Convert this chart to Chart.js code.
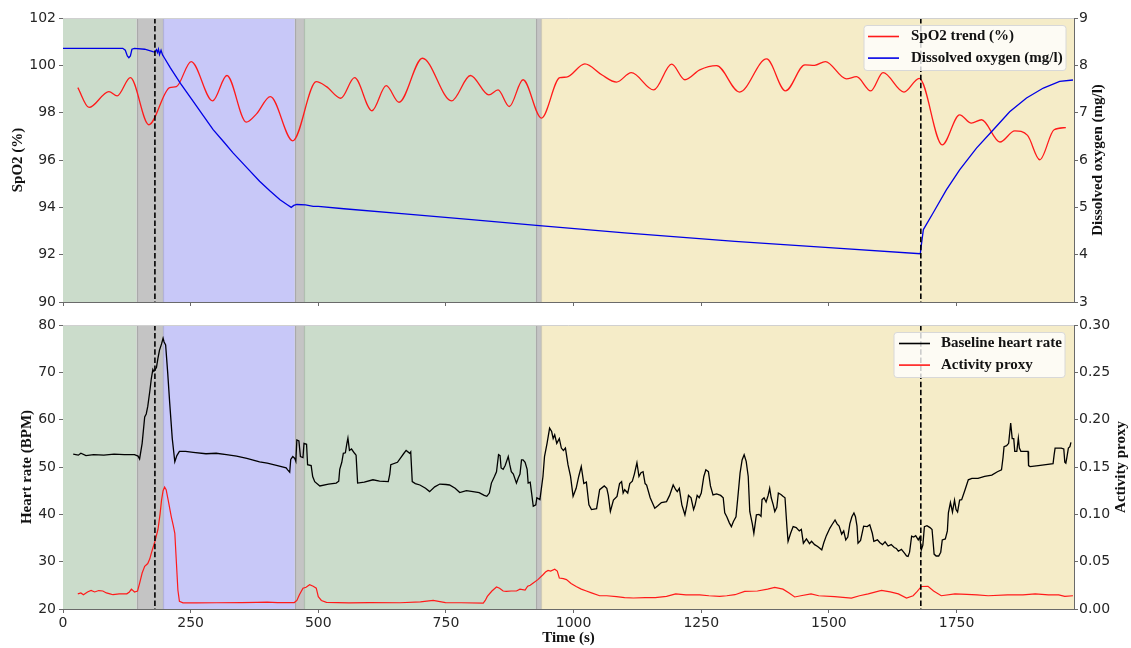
<!DOCTYPE html>
<html><head><meta charset="utf-8">
<script src="https://cdn.jsdelivr.net/npm/chart.js@4.4.1/dist/chart.umd.min.js"></script>
<style>
html,body{margin:0;padding:0;background:#fff;width:1131px;height:648px;overflow:hidden}
canvas{position:absolute;left:0}
#c1{top:0}
#c2{top:310px}
</style></head><body>
<canvas id="c1" width="1131" height="322" style="width:1131px;height:322px"></canvas>
<canvas id="c2" width="1131" height="338" style="width:1131px;height:338px"></canvas>
<script>
// ---------- DATA ----------
const xTickValues = [0,250,500,750,1000,1250,1500,1750];
const spo2Ticks = [90,92,94,96,98,100,102];
const doTicks = [3,4,5,6,7,8,9];
const hrTicks = [20,30,40,50,60,70,80];
const actTicks = [0,0.05,0.10,0.15,0.20,0.25,0.30];

const regionStart = [0,144,196,454,472,926,937];
const regionEnd   = [144,196,454,472,926,937,1980];
const regionKind  = ['rest','transition','hypoxia','transition','rest','transition','recovery'];
const eventTimes = [180,1680];

const spo2Trend = [[29,99.06],[51,98.22],[90,98.89],[106,98.71],[132,99.48],[168,97.49],[209,99.06],[222,99.1],[251,100.16],[293,98.5],[321,99.57],[359,97.6],[379,97.95],[406,98.68],[450,96.81],[496,99.31],[516,99.1],[544,98.61],[571,99.48],[605,98.08],[633,99.14],[658,98.44],[704,100.3],[761,98.5],[798,99.57],[834,98.75],[852,98.96],[874,98.26],[901,99.39],[937,97.77],[973,99.48],[986,99.5],[1022,100.06],[1055,99.6],[1084,99.29],[1113,99.69],[1157,98.96],[1192,100.05],[1218,99.39],[1247,99.81],[1280,99.99],[1325,98.87],[1378,100.27],[1415,98.92],[1453,100.02],[1472,100.0],[1493,100.16],[1534,99.43],[1554,99.52],[1582,98.92],[1606,99.69],[1647,98.87],[1677,99.45],[1722,96.64],[1756,97.91],[1779,97.56],[1799,97.7],[1835,96.76],[1864,97.23],[1889,97.04],[1913,96.01],[1941,97.28],[1964,97.37]];

const dissolvedO2 = [[0,8.36],[60,8.36],[117,8.36],[122,8.32],[126,8.2],[129,8.16],[132,8.2],[135,8.34],[140,8.36],[160,8.34],[176,8.29],[180,8.28],[183,8.33],[185,8.27],[187,8.34],[189,8.23],[192,8.32],[195,8.22],[199,8.15],[210,7.95],[230,7.62],[255,7.24],[275,6.93],[294,6.64],[315,6.38],[333,6.15],[360,5.84],[385,5.55],[405,5.35],[425,5.16],[440,5.05],[447,5.0],[452,5.04],[458,5.06],[475,5.05],[490,5.02],[500,5.02],[550,4.97],[669,4.86],[800,4.74],[927,4.62],[1100,4.46],[1316,4.28],[1500,4.15],[1679,4.02],[1681,4.2],[1685,4.53],[1704,4.88],[1730,5.37],[1756,5.79],[1789,6.25],[1822,6.64],[1854,7.02],[1887,7.31],[1920,7.52],[1952,7.66],[1978,7.69]];

const heartRate = [[20,52.7],[30,52.5],[35,52.9],[45,52.4],[60,52.6],[80,52.5],[100,52.7],[120,52.6],[140,52.6],[147,52.3],[150,51.7],[155,55],[160,60.6],[163,61.2],[166,62.8],[170,66],[173,68.7],[176,70.6],[178,70.2],[180,70.5],[183,71],[186,73],[189,74.7],[193,76],[196,77.2],[198,76.4],[201,75.8],[205,70],[209,63.5],[214,56],[219,51.1],[223,52.4],[228,53.3],[240,53.3],[255,53.1],[280,52.8],[300,52.9],[320,52.6],[340,52.3],[360,51.8],[385,51.1],[400,50.8],[420,50.3],[437,49.8],[440,49.4],[444,48.9],[446,51.6],[450,52.2],[454,51.8],[456,51.2],[458,55.7],[462,55.5],[465,52.2],[470,52.0],[472,55.0],[477,54.8],[479,50.5],[486,50.3],[489,48],[493,46.9],[503,46.0],[520,46.4],[535,46.6],[540,47],[542,49.5],[546,51],[549,52.9],[553,53],[556,55],[558,56.1],[561,53.5],[565,53.8],[571,52.9],[574,52.5],[577,46.6],[590,46.8],[607,47.3],[620,47.0],[637,46.9],[640,48.5],[642,50.5],[655,51],[663,52.2],[667,52.8],[672,53.5],[679,52.9],[681,53.2],[684,46.9],[690,46.5],[699,46.2],[710,45.5],[718,44.8],[728,45.8],[738,46.4],[750,46.3],[757,46.2],[768,45.5],[777,44.6],[790,45.0],[803,44.8],[815,44.6],[825,44.0],[830,43.8],[835,44.5],[839,46.6],[845,48],[849,49.0],[853,52.6],[856,52.4],[858,49.8],[862,49.5],[866,50.3],[872,52.2],[875,50.5],[878,49.0],[882,48.5],[888,46.6],[892,47.8],[895,48.5],[898,51.5],[901,51.5],[905,51.0],[909,49.5],[911,46.6],[915,46.8],[921,41.7],[926,42.0],[928,43.5],[934,43.1],[940,48],[943,52.2],[948,55],[953,58.2],[957,57.5],[960,56],[963,56.8],[967,55],[972,56],[976,54.0],[980,53.5],[984,54.0],[989,50.5],[994,48],[999,43.8],[1005,45.5],[1010,48],[1015,50.1],[1020,46.5],[1025,46.8],[1030,42],[1035,41.0],[1045,41.2],[1051,45.2],[1060,46.0],[1065,45.5],[1068,44],[1072,40.6],[1078,43],[1085,43.8],[1090,46.5],[1094,46.9],[1097,44.5],[1100,45.2],[1106,44.5],[1110,46.5],[1115,47],[1119,48.5],[1124,50.9],[1128,48],[1132,48.8],[1136,49],[1140,46.5],[1143,46.2],[1150,43.5],[1159,41.3],[1165,41.8],[1172,42.5],[1182,42.7],[1188,44],[1195,46.2],[1200,45.2],[1203,44.8],[1207,45.5],[1212,42],[1218,39.9],[1222,42],[1225,44],[1230,43.5],[1235,41],[1238,42],[1242,44],[1246,43.5],[1250,44.5],[1255,48],[1259,49.4],[1264,49],[1268,46],[1273,44.1],[1280,44.3],[1288,44.0],[1293,43.5],[1296,40.3],[1300,39.5],[1305,38.2],[1309,37.4],[1313,38.5],[1318,39.5],[1322,44],[1326,48.7],[1330,51.5],[1334,52.6],[1338,51.2],[1342,48],[1345,40.6],[1350,38],[1353,36.0],[1358,39.9],[1363,40],[1367,39.6],[1369,43.1],[1373,43.5],[1377,42.6],[1381,44],[1384,45.5],[1387,43.5],[1391,42],[1394,40.6],[1398,41.5],[1401,44.5],[1406,44.2],[1410,43.8],[1414,43.5],[1418,37],[1420,34.3],[1425,36],[1430,37.4],[1436,37.2],[1442,36.5],[1446,36.8],[1450,33.9],[1456,34.8],[1462,33.8],[1466,34.3],[1472,33.6],[1478,33.2],[1486,32.5],[1490,34],[1495,35.5],[1502,37.1],[1506,37.8],[1512,38.8],[1516,38],[1520,37.5],[1525,35.8],[1529,36.5],[1533,34.6],[1537,35.2],[1541,38],[1545,39.5],[1549,40.3],[1552,39.5],[1555,37.5],[1557,33.9],[1562,34.5],[1568,37.5],[1575,37.4],[1580,37.8],[1585,36],[1588,34.3],[1595,34.6],[1600,34],[1605,33.6],[1610,34.2],[1616,33.3],[1622,33.6],[1628,33],[1632,32.8],[1636,32.2],[1642,32.6],[1648,31.8],[1652,31.2],[1655,31.1],[1658,32],[1662,35.4],[1666,35.2],[1670,35.5],[1675,34.6],[1678,35.2],[1681,32.5],[1684,33.5],[1687,37.4],[1692,37.6],[1698,37.2],[1702,36.8],[1705,33],[1706,31.6],[1710,31.2],[1715,31.2],[1719,32],[1722,34.6],[1728,34.8],[1732,36.5],[1734,40.3],[1738,42.5],[1742,40.5],[1746,43],[1749,41],[1752,40.5],[1756,43],[1760,43.1],[1766,45],[1773,47.3],[1780,47.6],[1792,47.6],[1805,48],[1819,48.3],[1830,49],[1838,49.4],[1841,52],[1843,54.3],[1848,54.5],[1852,55],[1856,59.3],[1859,56],[1862,56],[1864,53.3],[1868,53.3],[1871,56.1],[1873,54],[1876,53.3],[1890,53.3],[1891,50.3],[1894,50.1],[1910,50.3],[1925,50.5],[1939,50.7],[1941,52.5],[1943,54.0],[1955,54.0],[1960,53.8],[1962,51],[1964,50.8],[1966,52],[1969,54.0],[1972,54.3],[1974,55.2]];

const activityProxy = [[29,0.016],[35,0.017],[40,0.015],[48,0.018],[55,0.0196],[62,0.018],[70,0.0195],[78,0.019],[85,0.017],[92,0.016],[98,0.0151],[110,0.016],[125,0.016],[130,0.018],[134,0.021],[140,0.018],[146,0.019],[150,0.027],[155,0.038],[160,0.045],[166,0.048],[170,0.053],[173,0.059],[177,0.066],[180,0.0713],[186,0.084],[190,0.10],[193,0.115],[196,0.125],[199,0.1287],[202,0.126],[206,0.115],[212,0.0977],[216,0.088],[219,0.080],[222,0.05],[225,0.02],[228,0.008],[235,0.0065],[260,0.0065],[300,0.0066],[350,0.0068],[380,0.007],[400,0.0072],[420,0.0068],[453,0.0068],[458,0.009],[463,0.015],[470,0.022],[476,0.023],[483,0.0256],[490,0.024],[496,0.022],[500,0.013],[506,0.009],[516,0.007],[560,0.0065],[600,0.0068],[660,0.0066],[700,0.0075],[725,0.009],[749,0.0068],[780,0.0066],[823,0.0063],[827,0.009],[831,0.0133],[840,0.019],[849,0.0232],[855,0.022],[862,0.019],[868,0.0186],[878,0.019],[888,0.019],[895,0.021],[905,0.02],[910,0.024],[915,0.025],[921,0.0274],[930,0.031],[940,0.0362],[945,0.039],[950,0.0407],[955,0.040],[963,0.042],[968,0.040],[972,0.0327],[980,0.032],[986,0.031],[995,0.027],[1005,0.0238],[1015,0.021],[1025,0.019],[1035,0.017],[1051,0.014],[1065,0.014],[1084,0.013],[1100,0.012],[1117,0.0116],[1140,0.012],[1160,0.012],[1182,0.0133],[1200,0.016],[1220,0.015],[1247,0.015],[1265,0.014],[1286,0.0133],[1300,0.014],[1316,0.0151],[1335,0.0186],[1360,0.019],[1380,0.021],[1394,0.0228],[1410,0.021],[1422,0.017],[1433,0.0127],[1445,0.014],[1465,0.016],[1480,0.014],[1511,0.013],[1544,0.0116],[1560,0.014],[1577,0.016],[1603,0.0196],[1620,0.018],[1636,0.016],[1652,0.0116],[1665,0.014],[1673,0.0186],[1681,0.0238],[1694,0.024],[1705,0.019],[1720,0.014],[1747,0.016],[1770,0.0155],[1790,0.015],[1812,0.014],[1850,0.015],[1880,0.015],[1904,0.016],[1930,0.015],[1950,0.015],[1962,0.0133],[1978,0.014]];

// ---------- STYLE ----------
const X_MAX = 1980;
const regionColors = {rest:'#cbdccb', transition:'#c4c4c4', hypoxia:'#c8c8f8', recovery:'#f5ecc8'};
const TICK_FONT = {family:'DejaVu Sans', size:14};
const TICK_COLOR = '#262626';
const SPINE = '#6a6a6a';
const TITLE_FONT = 'bold 15px "Liberation Serif", "Times New Roman", serif';

const toXY = arr => arr.map(p => ({x:p[0], y:p[1]}));

const bgPlugin = {
  id:'bg',
  beforeDatasetsDraw(chart){
    const {ctx, chartArea:a, scales:{x}} = chart;
    ctx.save();
    for (let i=0;i<regionStart.length;i++){
      const x0 = x.getPixelForValue(regionStart[i]);
      const x1 = x.getPixelForValue(Math.min(regionEnd[i], X_MAX));
      ctx.fillStyle = regionColors[regionKind[i]];
      ctx.fillRect(x0, a.top, x1-x0, a.bottom-a.top);
    }
    ctx.strokeStyle = 'rgba(0,0,0,0.13)';
    ctx.lineWidth = 1.2;
    for (let i=1;i<regionStart.length;i++){
      const xe = Math.round(x.getPixelForValue(regionStart[i]))+0.5;
      ctx.beginPath(); ctx.moveTo(xe, a.top); ctx.lineTo(xe, a.bottom); ctx.stroke();
    }
    ctx.restore();
  },
  afterDatasetsDraw(chart, args, opts){
    const {ctx, chartArea:a, scales:{x}} = chart;
    ctx.save();
    ctx.strokeStyle = '#000'; ctx.lineWidth = 1.6; ctx.setLineDash([5.5,2.6]);
    eventTimes.forEach(t => {
      const xp = x.getPixelForValue(t);
      ctx.beginPath(); ctx.moveTo(xp, a.top); ctx.lineTo(xp, a.bottom); ctx.stroke();
    });
    ctx.setLineDash([]);
    ctx.strokeStyle = '#d0d0d0'; ctx.lineWidth = 1;
    ctx.beginPath(); ctx.moveTo(a.left, a.top+0.5); ctx.lineTo(a.right, a.top+0.5); ctx.stroke();
    const L = opts.legend;
    ctx.fillStyle = 'rgba(255,255,255,0.8)';
    ctx.strokeStyle = '#d8d8d8';
    ctx.beginPath();
    ctx.roundRect(L.x, L.y, L.w, L.h, 3);
    ctx.fill(); ctx.stroke();
    ctx.font = TITLE_FONT; ctx.textBaseline = 'middle'; ctx.textAlign = 'left';
    chart.data.datasets.slice().sort((a,b)=>a.legendIndex-b.legendIndex).forEach((ds,i) => {
      const yy = L.y + L.row0 + i*L.rowGap;
      ctx.strokeStyle = ds.borderColor; ctx.lineWidth = 1.6;
      ctx.beginPath(); ctx.moveTo(L.lx0, yy); ctx.lineTo(L.lx1, yy); ctx.stroke();
      ctx.fillStyle = '#111';
      ctx.fillText(ds.label, L.tx, yy);
    });
    ctx.restore();
  },
  afterDraw(chart, args, opts){
    const ctx = chart.ctx;
    ctx.save();
    ctx.font = TITLE_FONT; ctx.fillStyle = '#111';
    ctx.textAlign = 'center'; ctx.textBaseline = 'middle';
    opts.titles.forEach(t => {
      ctx.save();
      ctx.translate(t.x, t.y);
      ctx.rotate(t.rot || 0);
      ctx.fillText(t.text, 0, 0);
      ctx.restore();
    });
    ctx.restore();
  }
};

function xScale(showLabels, h){
  return {
    type:'linear', min:0, max:X_MAX,
    afterBuildTicks: s => { s.ticks = xTickValues.map(v => ({value:v})); },
    afterFit: s => { s.height = h; },
    ticks:{display:showLabels, font:TICK_FONT, color:TICK_COLOR, padding:2, maxRotation:0, autoSkip:false, callback: v => String(v)},
    grid:{drawOnChartArea:false, drawTicks:true, tickLength:4, color:SPINE, tickColor:SPINE},
    border:{display:true, color:SPINE, width:1}
  };
}
function yScale(pos, min, max, tickVals, width, fmt){
  return {
    type:'linear', position:pos, min, max,
    afterBuildTicks: s => { s.ticks = tickVals.map(v => ({value:v})); },
    afterFit: s => { s.width = width; },
    ticks:{font:TICK_FONT, color:TICK_COLOR, padding: pos==='left'?3:1, callback: fmt || (v => String(v))},
    grid:{drawOnChartArea:false, drawTicks:true, tickLength:4, color:SPINE, tickColor:SPINE},
    border:{display:true, color:SPINE, width:1}
  };
}

const common = {
  responsive:false, animation:false, devicePixelRatio:1,
  plugins:{legend:{display:false}, tooltip:{enabled:false}},
  elements:{point:{radius:0}},
};

new Chart(document.getElementById('c1'), {
  type:'line',
  data:{datasets:[
    {label:'SpO2 trend (%)', data:toXY(spo2Trend), yAxisID:'y', borderColor:'#ff1a1a', borderWidth:1.3, cubicInterpolationMode:'monotone', order:1, legendIndex:0},
    {label:'Dissolved oxygen (mg/l)', data:toXY(dissolvedO2), yAxisID:'y2', borderColor:'#0000e6', borderWidth:1.3, tension:0, order:0, legendIndex:1}
  ]},
  options:{...common,
    layout:{padding:{top:18,left:0,right:0,bottom:0}, autoPadding:false},
    scales:{
      x:xScale(false, 20),
      y:yScale('left', 90, 102, spo2Ticks, 63),
      y2:yScale('right', 3, 9, doTicks, 57)
    },
    plugins:{...common.plugins,
      bg:{
        legend:{x:864, y:25.5, w:202, h:45, row0:11, rowGap:21.6, lx0:868, lx1:899, tx:911},
        titles:[
          {text:'SpO2 (%)', x:18, y:160, rot:-Math.PI/2},
          {text:'Dissolved oxygen (mg/l)', x:1098, y:160, rot:-Math.PI/2}
        ]
      }
    }
  },
  plugins:[bgPlugin]
});

new Chart(document.getElementById('c2'), {
  type:'line',
  data:{datasets:[
    {label:'Baseline heart rate', data:toXY(heartRate), yAxisID:'y', borderColor:'#000000', borderWidth:1.3, tension:0, order:1, legendIndex:0},
    {label:'Activity proxy', data:toXY(activityProxy), yAxisID:'y2', borderColor:'#ff1a1a', borderWidth:1.2, tension:0, order:0, legendIndex:1}
  ]},
  options:{...common,
    layout:{padding:{top:15,left:0,right:0,bottom:0}, autoPadding:false},
    scales:{
      x:xScale(true, 39),
      y:yScale('left', 20, 80, hrTicks, 63),
      y2:yScale('right', 0, 0.3, actTicks, 57, v => v.toFixed(2))
    },
    plugins:{...common.plugins,
      bg:{
        legend:{x:894, y:22.5, w:171, h:45, row0:11, rowGap:21.6, lx0:899, lx1:930, tx:941},
        titles:[
          {text:'Heart rate (BPM)', x:27, y:157, rot:-Math.PI/2},
          {text:'Activity proxy', x:1121.5, y:157, rot:-Math.PI/2},
          {text:'Time (s)', x:568.5, y:328, rot:0}
        ]
      }
    }
  },
  plugins:[bgPlugin]
});
</script>
</body></html>
